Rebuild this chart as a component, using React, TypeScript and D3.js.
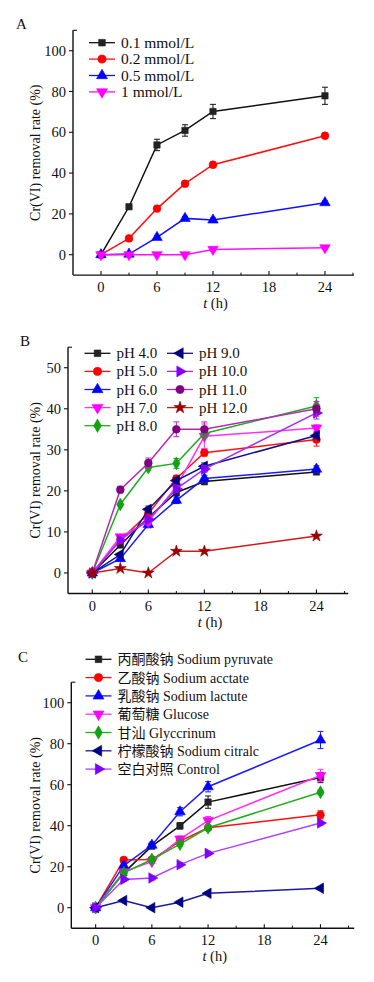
import React from 'react';
import * as d3 from 'd3';

const hours = [0, 3, 6, 9, 12, 24];
const xMajor = [0, 6, 12, 18, 24];
const xMinor = [3, 9, 15, 21, 27];

// panel A: Cr(VI) concentration
const concLabels = ['0.1 mmol/L', '0.2 mmol/L', '0.5 mmol/L', '1 mmol/L'];
const concValues = [
  [0, 23.5, 53.8, 60.9, 70.2, 77.9],
  [0, 8.0, 22.6, 34.8, 44.1, 58.3],
  [0, 0.3, 8.5, 17.8, 17.0, 25.5],
  [0, 0, 0, 0, 2.6, 3.4],
];
const concErrors = [
  [0.5, 1, 2.8, 2.8, 3.5, 4.2],
  [0, 0.8, 1, 1, 1.2, 1.2],
  [0, 0.5, 0.8, 1, 1, 0.8],
  [0, 0, 0, 0, 0.8, 0.8],
];
const yTicksA = [0, 20, 40, 60, 80, 100];

// panel B: pH
const phLabels = ['pH 4.0', 'pH 5.0', 'pH 6.0', 'pH 7.0', 'pH 8.0', 'pH 9.0', 'pH 10.0', 'pH 11.0', 'pH 12.0'];
const phValues = [
  [0, 6.8, 13.5, 19.6, 22.3, 24.6],
  [0, 8.0, 14.5, 23.0, 29.3, 32.5],
  [0, 3.5, 11.8, 17.7, 23.0, 25.3],
  [0, 8.8, 12.5, 21.0, 33.3, 35.3],
  [0, 16.7, 25.7, 26.7, 34.0, 40.7],
  [0, 4.5, 15.5, 22.5, 26.0, 33.5],
  [0, 8.0, 13.0, 20.5, 25.3, 39.0],
  [0, 20.3, 26.8, 35.0, 35.0, 40.0],
  [0, 1.1, 0, 5.3, 5.3, 9.0],
];
const phErrors = [
  [0, 0.6, 0.8, 0.8, 0.8, 0.6],
  [0, 0.6, 0.8, 0.8, 0.8, 1.6],
  [0, 0.6, 0.8, 0.8, 0.8, 0.8],
  [0, 0.6, 0.8, 0.8, 3.0, 0.8],
  [0, 0.6, 0.8, 1.2, 1.0, 2.0],
  [0, 0.6, 0.8, 0.8, 0.8, 0.8],
  [0, 0.6, 0.8, 0.8, 0.8, 1.5],
  [0, 0.8, 1.2, 1.8, 1.8, 1.8],
  [0, 0.3, 0.3, 0.3, 0.3, 0.3],
];
const yTicksB = [0, 10, 20, 30, 40, 50];

// panel C: carbon source
const carbonLabels = [
  '丙酮酸钠 Sodium pyruvate',
  '乙酸钠 Sodium acctate',
  '乳酸钠 Sodium lactute',
  '葡萄糖 Glucose',
  '甘汕 Glyccrinum',
  '柠檬酸钠 Sodium citralc',
  '空白对照 Control',
];
const carbonValues = [
  [0, 17.0, 30.0, 39.9, 51.5, 63.5],
  [0, 23.3, 23.5, 32.5, 39.0, 45.3],
  [0, 20.5, 30.5, 46.8, 59.0, 81.8],
  [0, 17.5, 22.5, 33.5, 42.5, 64.5],
  [0, 17.0, 23.5, 31.0, 39.0, 56.3],
  [0, 3.5, 0, 2.7, 7.0, 9.5],
  [0, 13.8, 14.5, 21.0, 26.5, 41.3],
];
const carbonErrors = [
  [0, 1, 1, 1.5, 3.0, 2.5],
  [0, 1, 1, 1, 1, 2.0],
  [0, 1, 1.5, 2.0, 2.5, 4.2],
  [0, 1, 1, 1.5, 2.0, 3.0],
  [0, 1, 1, 1, 1, 1],
  [0, 0.6, 0.5, 0.5, 0.6, 0.8],
  [0, 1, 1, 1, 1, 1],
];
const yTicksC = [0, 20, 40, 60, 80, 100];

const SERIF = '"Liberation Serif", "Times New Roman", serif';
const MIXED = '"Liberation Serif", "Noto Sans CJK SC", serif';

type Shape = 'square' | 'circle' | 'up' | 'down' | 'diamond' | 'left' | 'right' | 'star';

const symbolFor = (s: Shape, size: number) => {
  const t =
    s === 'square' ? d3.symbolSquare :
    s === 'circle' ? d3.symbolCircle :
    s === 'diamond' ? d3.symbolDiamond :
    s === 'star' ? d3.symbolStar : d3.symbolTriangle;
  return d3.symbol().type(t).size(size)() as string;
};
const rotFor = (s: Shape) => (s === 'down' ? 180 : s === 'left' ? -90 : s === 'right' ? 90 : 0);

function Marker({ x, y, shape, color, size = 48 }: { x: number; y: number; shape: Shape; color: string; size?: number }) {
  const sz = shape === 'square' ? size * 0.85 : shape === 'star' ? size * 0.9 : size;
  return (
    <path
      d={symbolFor(shape, sz)}
      transform={`translate(${x},${y}) rotate(${rotFor(shape)})`}
      fill={color}
      stroke={color}
      strokeWidth={0.6}
    />
  );
}

type Cfg = {
  label: string;
  labelX: number;
  labelY: number;
  xDomain: [number, number];
  xRange: [number, number];
  yDomain: [number, number];
  yRange: [number, number];
  yTicks: number[];
  names: string[];
  values: number[][];
  errors: number[][];
  colors: string[];
  markerColors: string[];
  shapes: Shape[];
  legendPos: (i: number) => { lx: number; ly: number };
  legendFont: string;
  legendSize: number;
};

function Panel({ cfg }: { cfg: Cfg }) {
  const x = d3.scaleLinear().domain(cfg.xDomain).range(cfg.xRange);
  const y = d3.scaleLinear().domain(cfg.yDomain).range(cfg.yRange);
  const x0 = x(cfg.xDomain[0]);
  const x1 = x(cfg.xDomain[1]);
  const yb = y(cfg.yDomain[0]);
  const yt = y(cfg.yDomain[1]);
  const step = cfg.yTicks[1] - cfg.yTicks[0];
  const yMinor = d3.range(cfg.yDomain[0] + step / 2, cfg.yDomain[1] + 0.01, step).filter((v) => !cfg.yTicks.includes(v));
  const line = d3.line<number>().x((_, i) => x(hours[i])).y((d) => y(d));

  return (
    <g>
      <text x={cfg.labelX} y={cfg.labelY} fontFamily={SERIF} fontSize={15} fill="#111">{cfg.label}</text>
      {/* axes */}
      <line x1={x0} x2={x0} y1={yt} y2={yb} stroke="#111" strokeWidth={1.4} />
      <line x1={x0} x2={x1} y1={yb} y2={yb} stroke="#111" strokeWidth={1.4} />
      <line x1={x0} x2={x0 + 4} y1={yt} y2={yt} stroke="#111" strokeWidth={1.1} />
      {cfg.yTicks.map((v) => (
        <g key={'yt' + v}>
          <line x1={x0 - 4} x2={x0} y1={y(v)} y2={y(v)} stroke="#111" strokeWidth={1.1} />
          <text x={x0 - 7} y={y(v) + 5} textAnchor="end" fontFamily={SERIF} fontSize={14.5} fill="#111">{v}</text>
        </g>
      ))}
      {yMinor.map((v) => (
        <line key={'ym' + v} x1={x0 - 2.5} x2={x0} y1={y(v)} y2={y(v)} stroke="#111" strokeWidth={1} />
      ))}
      {xMajor.map((v) => (
        <g key={'xt' + v}>
          <line x1={x(v)} x2={x(v)} y1={yb - 4} y2={yb} stroke="#111" strokeWidth={1.1} />
          <text x={x(v)} y={yb + 17} textAnchor="middle" fontFamily={SERIF} fontSize={14.5} fill="#111">{v}</text>
        </g>
      ))}
      {xMinor.filter((v) => v <= cfg.xDomain[1]).map((v) => (
        <line key={'xm' + v} x1={x(v)} x2={x(v)} y1={yb - 2.5} y2={yb} stroke="#111" strokeWidth={1} />
      ))}
      <text x={(x0 + x1) / 2 + 2} y={yb + 33} textAnchor="middle" fontFamily={SERIF} fontSize={14.5} fill="#111">
        <tspan fontStyle="italic">t</tspan> (h)
      </text>
      <text
        transform={`translate(${37},${(yt + yb) / 2}) rotate(-90)`}
        textAnchor="middle"
        dominantBaseline="middle"
        fontFamily={SERIF}
        fontSize={14}
        fill="#111"
      >
        Cr(VI) removal rate (%)
      </text>
      {/* series */}
      {cfg.values.map((vals, si) => (
        <g key={'s' + si}>
          <path d={line(vals) as string} fill="none" stroke={cfg.colors[si]} strokeWidth={1.5} />
          {vals.map((v, i) =>
            cfg.errors[si][i] > 0.7 ? (
              <g key={'e' + i} stroke={cfg.colors[si]} strokeWidth={1}>
                <line x1={x(hours[i])} x2={x(hours[i])} y1={y(v - cfg.errors[si][i])} y2={y(v + cfg.errors[si][i])} />
                <line x1={x(hours[i]) - 3} x2={x(hours[i]) + 3} y1={y(v - cfg.errors[si][i])} y2={y(v - cfg.errors[si][i])} />
                <line x1={x(hours[i]) - 3} x2={x(hours[i]) + 3} y1={y(v + cfg.errors[si][i])} y2={y(v + cfg.errors[si][i])} />
              </g>
            ) : null
          )}
          {vals.map((v, i) => (
            <Marker key={'m' + i} x={x(hours[i])} y={y(v)} shape={cfg.shapes[si]} color={cfg.markerColors[si]} />
          ))}
        </g>
      ))}
      {/* legend */}
      {cfg.names.map((n, i) => {
        const { lx, ly } = cfg.legendPos(i);
        return (
          <g key={'l' + i}>
            <line x1={lx} x2={lx + 26} y1={ly} y2={ly} stroke={cfg.colors[i]} strokeWidth={1.3} />
            <Marker x={lx + 13} y={ly} shape={cfg.shapes[i]} color={cfg.markerColors[i]} size={52} />
            <text x={lx + 32} y={ly + 5} fontFamily={cfg.legendFont} fontSize={cfg.legendSize} fill="#111">{n}</text>
          </g>
        );
      })}
    </g>
  );
}

const panelA: Cfg = {
  label: 'A',
  labelX: 16,
  labelY: 29,
  xDomain: [-3, 27.1],
  xRange: [73, 353.9],
  yDomain: [-10, 110],
  yRange: [275.1, 30.3],
  yTicks: yTicksA,
  names: concLabels,
  values: concValues,
  errors: concErrors,
  colors: ['#111111', '#ff1010', '#1010ff', '#ff10ff'],
  markerColors: ['#222222', '#ff0000', '#0000ff', '#ff00ff'],
  shapes: ['square', 'circle', 'up', 'down'],
  legendPos: (i) => ({ lx: 89, ly: 42.7 + 16.4 * i }),
  legendFont: SERIF,
  legendSize: 15.5,
};

const panelB: Cfg = {
  label: 'B',
  labelX: 20,
  labelY: 346,
  xDomain: [-2.6, 27.4],
  xRange: [68, 348.2],
  yDomain: [-5, 55],
  yRange: [593.5, 347.2],
  yTicks: yTicksB,
  names: phLabels,
  values: phValues,
  errors: phErrors,
  colors: ['#111111', '#ff1010', '#1a1aff', '#ff30ff', '#1fae1f', '#10108a', '#a030ff', '#b828b8', '#d01a1a'],
  markerColors: ['#222222', '#ff0000', '#0000ff', '#ff00ff', '#13a013', '#000080', '#8000ff', '#800080', '#990000'],
  shapes: ['square', 'circle', 'up', 'down', 'diamond', 'left', 'right', 'circle', 'star'],
  legendPos: (i) => (i < 5 ? { lx: 84.5, ly: 353.3 + 18.1 * i } : { lx: 167, ly: 353.3 + 18.1 * (i - 5) }),
  legendFont: SERIF,
  legendSize: 15,
};

const panelC: Cfg = {
  label: 'C',
  labelX: 18,
  labelY: 662,
  xDomain: [-2.6, 27.6],
  xRange: [71.3, 354.2],
  yDomain: [-10, 110],
  yRange: [928.2, 682.2],
  yTicks: yTicksC,
  names: carbonLabels,
  values: carbonValues,
  errors: carbonErrors,
  colors: ['#111111', '#ff1010', '#1a1aff', '#ff30ff', '#1fae1f', '#1a1aa0', '#b040ff'],
  markerColors: ['#222222', '#ff0000', '#0000ff', '#ff00ff', '#13a013', '#000080', '#8000ff'],
  shapes: ['square', 'circle', 'up', 'down', 'diamond', 'left', 'right'],
  legendPos: (i) => ({ lx: 85.5, ly: 659.3 + 18.3 * i }),
  legendFont: MIXED,
  legendSize: 14,
};

export default function App() {
  return (
    <div style={{ position: 'absolute', left: 0, top: 0, width: 374, height: 982, background: '#fff' }}>
      <svg width={374} height={982} viewBox="0 0 374 982">
        <rect width={374} height={982} fill="#fff" />
        <Panel cfg={panelA} />
        <Panel cfg={panelB} />
        <Panel cfg={panelC} />
      </svg>
    </div>
  );
}
